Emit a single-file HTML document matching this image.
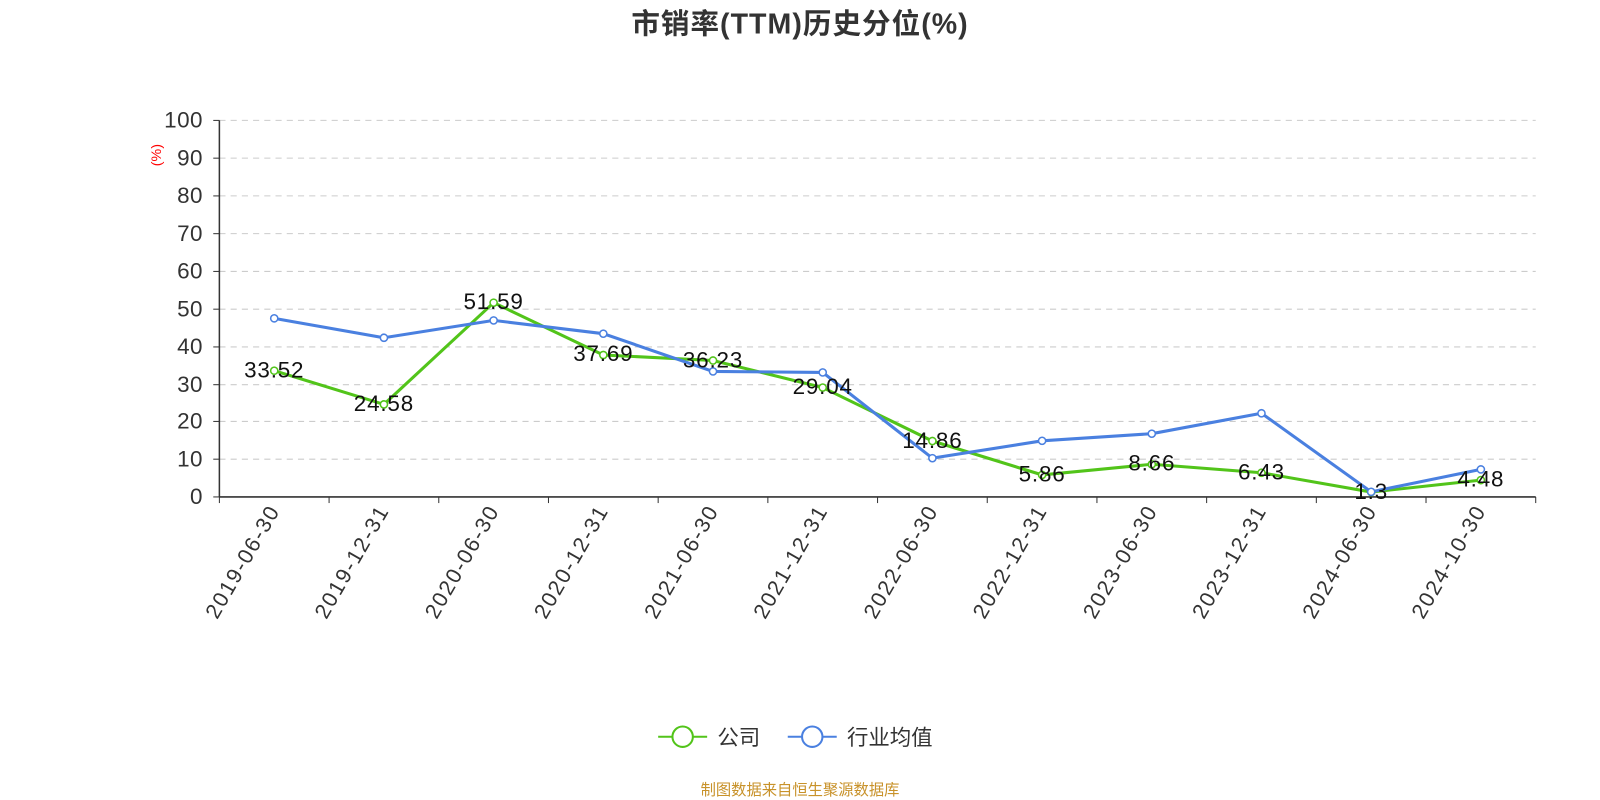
<!DOCTYPE html>
<html><head><meta charset="utf-8"><style>
body{margin:0;background:#fff;}
svg{display:block;font-family:"Liberation Sans","Noto Sans CJK SC",sans-serif;}
</style></head><body>
<svg width="1600" height="800" viewBox="0 0 1568 784">
<text x="784" y="33" text-anchor="middle" font-size="28" font-weight="bold" fill="#333" letter-spacing="1">市销率(TTM)历史分位(%)</text>
<g stroke="#ccc" stroke-dasharray="6,5" stroke-width="1">
<line x1="215" x2="1505" y1="118" y2="118"/><line x1="215" x2="1505" y1="155" y2="155"/><line x1="215" x2="1505" y1="192" y2="192"/><line x1="215" x2="1505" y1="229" y2="229"/><line x1="215" x2="1505" y1="266" y2="266"/><line x1="215" x2="1505" y1="303" y2="303"/><line x1="215" x2="1505" y1="340" y2="340"/><line x1="215" x2="1505" y1="377" y2="377"/><line x1="215" x2="1505" y1="413" y2="413"/><line x1="215" x2="1505" y1="450" y2="450"/>
</g>
<g stroke="#333" stroke-width="1.5"><line x1="215" y1="118" x2="215" y2="487"/><line x1="215" y1="487" x2="1505" y2="487"/></g>
<g stroke="#333"><line x1="209" x2="215" y1="118" y2="118"/><line x1="209" x2="215" y1="155" y2="155"/><line x1="209" x2="215" y1="192" y2="192"/><line x1="209" x2="215" y1="229" y2="229"/><line x1="209" x2="215" y1="266" y2="266"/><line x1="209" x2="215" y1="303" y2="303"/><line x1="209" x2="215" y1="340" y2="340"/><line x1="209" x2="215" y1="377" y2="377"/><line x1="209" x2="215" y1="413" y2="413"/><line x1="209" x2="215" y1="450" y2="450"/><line x1="209" x2="215" y1="487" y2="487"/>
<line x1="215" x2="215" y1="487" y2="493"/><line x1="322.5" x2="322.5" y1="487" y2="493"/><line x1="430" x2="430" y1="487" y2="493"/><line x1="537.5" x2="537.5" y1="487" y2="493"/><line x1="645" x2="645" y1="487" y2="493"/><line x1="752.5" x2="752.5" y1="487" y2="493"/><line x1="860" x2="860" y1="487" y2="493"/><line x1="967.5" x2="967.5" y1="487" y2="493"/><line x1="1075" x2="1075" y1="487" y2="493"/><line x1="1182.5" x2="1182.5" y1="487" y2="493"/><line x1="1290" x2="1290" y1="487" y2="493"/><line x1="1397.5" x2="1397.5" y1="487" y2="493"/><line x1="1505" x2="1505" y1="487" y2="493"/></g>
<g font-size="22" fill="#333" text-anchor="end" letter-spacing="0.5">
<text x="199" y="125">100</text><text x="199" y="162">90</text><text x="199" y="199">80</text><text x="199" y="236">70</text><text x="199" y="273">60</text><text x="199" y="310">50</text><text x="199" y="347">40</text><text x="199" y="384">30</text><text x="199" y="420">20</text><text x="199" y="457">10</text><text x="199" y="494">0</text>
</g>
<text x="158" y="152" font-size="14" fill="red" transform="rotate(-90 158 152)" text-anchor="middle">(%)</text>
<g font-size="21" fill="#333" text-anchor="end" letter-spacing="1.7">
<text transform="translate(275,500) rotate(-60)">2019-06-30</text>
<text transform="translate(382,500) rotate(-60)">2019-12-31</text>
<text transform="translate(490,500) rotate(-60)">2020-06-30</text>
<text transform="translate(597,500) rotate(-60)">2020-12-31</text>
<text transform="translate(705,500) rotate(-60)">2021-06-30</text>
<text transform="translate(812,500) rotate(-60)">2021-12-31</text>
<text transform="translate(920,500) rotate(-60)">2022-06-30</text>
<text transform="translate(1027,500) rotate(-60)">2022-12-31</text>
<text transform="translate(1135,500) rotate(-60)">2023-06-30</text>
<text transform="translate(1242,500) rotate(-60)">2023-12-31</text>
<text transform="translate(1350,500) rotate(-60)">2024-06-30</text>
<text transform="translate(1457,500) rotate(-60)">2024-10-30</text>
</g>
<polyline fill="none" stroke="#52c41a" stroke-width="3" points="268.75,363.3 376.25,396.3 483.75,296.6 591.25,347.9 698.75,353.3 806.25,379.8 913.75,432.2 1021.25,465.4 1128.75,455.0 1236.25,463.3 1343.75,482.2 1451.25,470.5"/>
<polyline fill="none" stroke="#4a80e0" stroke-width="3" points="268.75,312 376.25,331 483.75,314 591.25,327 698.75,364 806.25,365 913.75,449 1021.25,432 1128.75,425 1236.25,405 1343.75,482 1451.25,460"/>
<g fill="#fff" stroke="#52c41a" stroke-width="1.5">
<circle cx="268.75" cy="363.3" r="3.5"/><circle cx="376.25" cy="396.3" r="3.5"/><circle cx="483.75" cy="296.6" r="3.5"/><circle cx="591.25" cy="347.9" r="3.5"/><circle cx="698.75" cy="353.3" r="3.5"/><circle cx="806.25" cy="379.8" r="3.5"/><circle cx="913.75" cy="432.2" r="3.5"/><circle cx="1021.25" cy="465.4" r="3.5"/><circle cx="1128.75" cy="455" r="3.5"/><circle cx="1236.25" cy="463.3" r="3.5"/><circle cx="1343.75" cy="482.2" r="3.5"/><circle cx="1451.25" cy="470.5" r="3.5"/></g>
<g fill="#fff" stroke="#4a80e0" stroke-width="1.5">
<circle cx="268.75" cy="312" r="3.5"/><circle cx="376.25" cy="331" r="3.5"/><circle cx="483.75" cy="314" r="3.5"/><circle cx="591.25" cy="327" r="3.5"/><circle cx="698.75" cy="364" r="3.5"/><circle cx="806.25" cy="365" r="3.5"/><circle cx="913.75" cy="449" r="3.5"/><circle cx="1021.25" cy="432" r="3.5"/><circle cx="1128.75" cy="425" r="3.5"/><circle cx="1236.25" cy="405" r="3.5"/><circle cx="1343.75" cy="482" r="3.5"/><circle cx="1451.25" cy="460" r="3.5"/></g>
<g font-size="22" fill="#111" text-anchor="middle" letter-spacing="0.8">
<text x="268.75" y="370">33.52</text><text x="376.25" y="403">24.58</text><text x="483.75" y="303">51.59</text><text x="591.25" y="354">37.69</text><text x="698.75" y="360">36.23</text><text x="806.25" y="386">29.04</text><text x="913.75" y="439">14.86</text><text x="1021.25" y="472">5.86</text><text x="1128.75" y="461">8.66</text><text x="1236.25" y="470">6.43</text><text x="1343.75" y="489">1.3</text><text x="1451.25" y="477">4.48</text>
</g>
<line x1="645" x2="693" y1="722" y2="722" stroke="#52c41a" stroke-width="2"/><circle cx="669" cy="722" r="10" fill="#fff" stroke="#52c41a" stroke-width="2"/>
<text x="703" y="730" font-size="21" fill="#333">公司</text>
<line x1="772" x2="820" y1="722" y2="722" stroke="#4a80e0" stroke-width="2"/><circle cx="796" cy="722" r="10" fill="#fff" stroke="#4a80e0" stroke-width="2"/>
<text x="830" y="730" font-size="21" fill="#333">行业均值</text>
<text x="784" y="779" text-anchor="middle" font-size="15" fill="#c8922a">制图数据来自恒生聚源数据库</text>
</svg>
</body></html>
